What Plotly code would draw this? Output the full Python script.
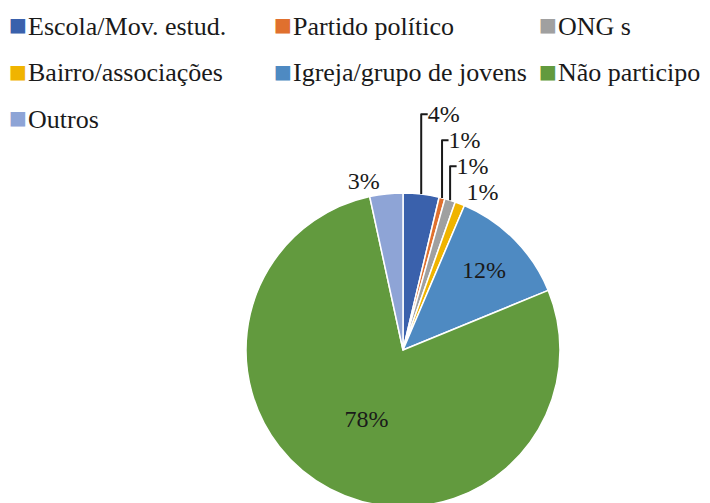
import plotly.graph_objects as go

categorias = ['Escola/Mov. estud.', 'Partido político', 'ONG s', 'Bairro/associações',
              'Igreja/grupo de jovens', 'Não participo', 'Outros']
percentuais = [3.7, 0.6, 1.1, 1.0, 12.4, 77.8, 3.4]
cores = ['#3A61AC', '#E0702E', '#A0A0A0', '#F0B400', '#4E8AC2', '#629A3E', '#8EA4D6']
posicao_texto = ['outside', 'outside', 'outside', 'outside', 'inside', 'inside', 'outside']

fonte = 'Liberation Serif'
W, H = 710, 503
TOPO, BASE = 185, 4

fig = go.Figure(go.Pie(
    labels=categorias,
    values=percentuais,
    sort=False,
    direction='clockwise',
    rotation=0,
    marker=dict(colors=cores, line=dict(color='white', width=1.5)),
    texttemplate='%{percent:.0%}',
    textposition=posicao_texto,
    textfont=dict(family=fonte, size=24, color='#1a1a1a'),
    insidetextorientation='horizontal',
    hoverinfo='label+percent',
    showlegend=False,
    domain=dict(x=[235 / W, 555 / W], y=[0, 1]),
))

# legenda em 3 colunas, montada a partir das mesmas listas
def ypaper(py):
    return 1 + (TOPO - py) / (H - TOPO - BASE)

for i, (nome, cor) in enumerate(zip(categorias, cores)):
    col, lin = i % 3, i // 3
    x0, y0 = 10 + col * 265, 18 + lin * 46.5
    fig.add_annotation(xref='paper', yref='paper', x=x0 / W, y=ypaper(y0 - 2),
                       xanchor='center', yanchor='middle', showarrow=False,
                       text='■', font=dict(family='DejaVu Sans', size=19, color=cor))
    fig.add_annotation(xref='paper', yref='paper', x=(x0 + 8) / W, y=ypaper(y0),
                       xanchor='left', yanchor='middle', showarrow=False,
                       text=nome, font=dict(family=fonte, size=26, color='#1a1a1a'))

fig.update_layout(
    width=W, height=H,
    margin=dict(l=0, r=0, t=TOPO, b=BASE),
    paper_bgcolor='white',
    font=dict(family=fonte, size=24, color='#1a1a1a'),
)

fig.write_html("out.html")
